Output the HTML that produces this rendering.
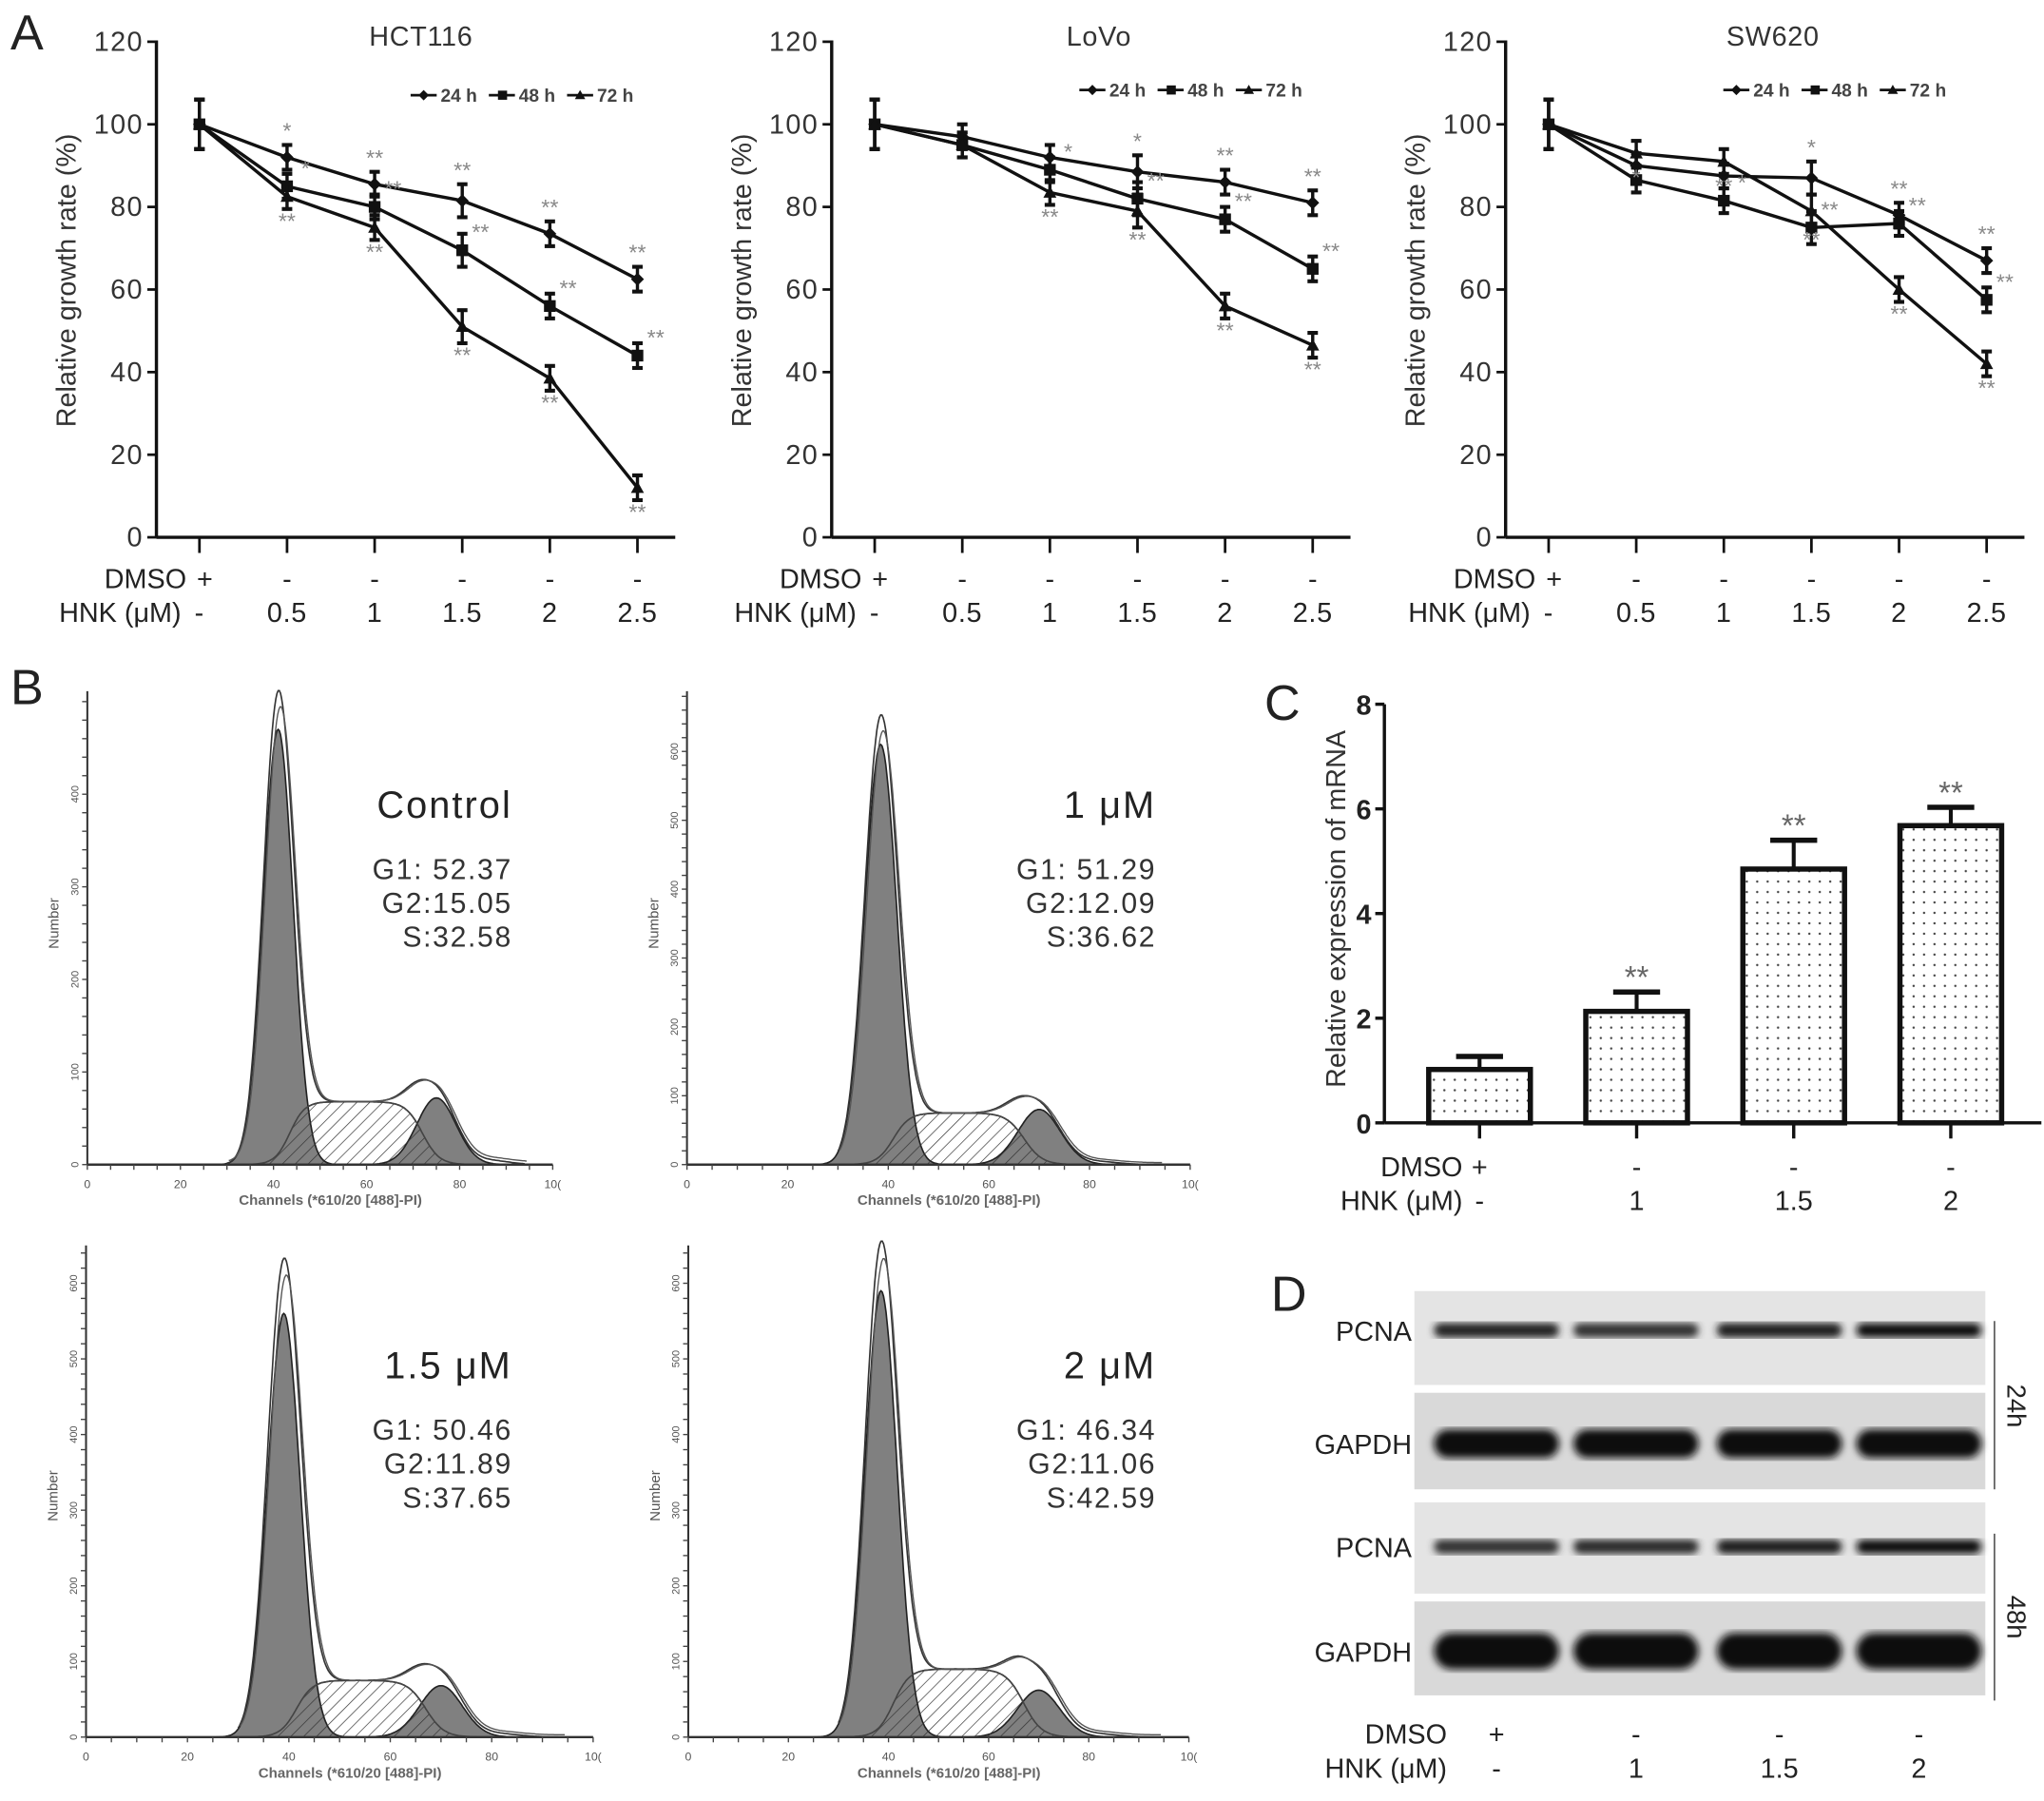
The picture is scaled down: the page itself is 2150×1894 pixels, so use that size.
<!DOCTYPE html>
<html><head><meta charset="utf-8">
<style>
html,body{margin:0;padding:0;background:#fff;}
svg{display:block;font-family:"Liberation Sans",sans-serif;}
</style></head>
<body>
<svg id="fig" width="2150" height="1894" viewBox="0 0 1568 1381" preserveAspectRatio="none" xmlns="http://www.w3.org/2000/svg">
<defs>
<pattern id="hatch" patternUnits="userSpaceOnUse" width="7" height="7" patternTransform="rotate(45)">
<line x1="0" y1="0" x2="0" y2="7" stroke="#333" stroke-width="1"/>
</pattern>
<pattern id="dots" patternUnits="userSpaceOnUse" width="8" height="8">
<circle cx="4" cy="4" r="0.9" fill="#444"/>
</pattern>
<filter id="blur"><feGaussianBlur stdDeviation="3"/></filter>
</defs>
<g id="root"></g>
</svg>
<script>
// ---------- Panel A data ----------
const doseLabels = ["-", "0.5", "1", "1.5", "2", "2.5"];
const dmsoLabels = ["+", "-", "-", "-", "-", "-"];
const yTicksA = [0, 20, 40, 60, 80, 100, 120];
const seriesNames = ["24 h", "48 h", "72 h"];
const hct24 = [100, 92, 85.5, 81.5, 73.5, 62.5];
const hct48 = [100, 85, 80, 69.5, 56, 44];
const hct72 = [100, 82.5, 75, 51, 38.5, 12];
const lovo24 = [100, 97, 92, 88.5, 86, 81];
const lovo48 = [100, 95, 89, 82, 77, 65];
const lovo72 = [100, 95, 83.5, 79, 56, 46.5];
const sw24 = [100, 90, 87.5, 87, 78, 67];
const sw48 = [100, 86.5, 81.5, 75, 76, 57.5];
const sw72 = [100, 93, 91, 79, 60, 42];
const errA = [6, 3, 3, 4, 3, 3];
const sigHct = [["", "*", "**", "**", "**", "**"], ["", "*", "**", "**", "**", "**"], ["", "**", "**", "**", "**", "**"]];
const sigLovo = [["", "", "", "*", "**", "**"], ["", "", "*", "**", "**", "**"], ["", "", "**", "**", "**", "**"]];
const sigSw = [["", "", "", "*", "**", "**"], ["", "", "*", "**", "**", "**"], ["", "*", "**", "**", "**", "**"]];
// ---------- Panel B data ----------
const flowTitles = ["Control", "1 μM", "1.5 μM", "2 μM"];
const flowG1 = [52.37, 51.29, 50.46, 46.34];
const flowG2 = [15.05, 12.09, 11.89, 11.06];
const flowS = [32.58, 36.62, 37.65, 42.59];
const g1Mean = [41, 38.5, 39, 38.5];
const g1Height = [470, 610, 560, 590];
const g2Mean = [75, 70, 70, 70];
const g2Height = [72, 80, 68, 62];
const sHeight = [68, 75, 75, 90];
const envPeak = [500, 640, 620, 640];
const envG2 = [112, 122, 118, 128];
const flowYTick = [100, 100, 100, 100];
const flowXTicks = [0, 20, 40, 60, 80, 100];
// ---------- Panel C data ----------
const barDose = ["-", "1", "1.5", "2"];
const barDmso = ["+", "-", "-", "-"];
const barVals = [1.02, 2.13, 4.85, 5.68];
const barErr = [0.25, 0.37, 0.55, 0.35];
const barSig = ["", "**", "**", "**"];
const yTicksC = [0, 2, 4, 6, 8];
// ---------- Panel D data ----------
const blotRows = ["PCNA", "GAPDH", "PCNA", "GAPDH"];
const blotIntensity = [[0.85, 0.75, 0.9, 1], [1, 1, 1, 1], [0.75, 0.8, 0.9, 1], [1, 1, 1, 1]];

const NS = "http://www.w3.org/2000/svg";
const root = document.getElementById("root");
function el(tag, attrs, parent, text) {
  const e = document.createElementNS(NS, tag);
  for (const k in attrs) e.setAttribute(k, attrs[k]);
  if (text !== undefined) e.textContent = text;
  (parent || root).appendChild(e);
  return e;
}

// ---------- Panel letters ----------
[["A", 8, 38], ["B", 8, 540], ["C", 970, 552], ["D", 975, 1005]].forEach(function (p) {
  const t = el("text", {x: p[1], y: p[2], "font-size": 38, fill: "#222"}, root, p[0]);
  
  
});

// ---------- Panel A ----------
function lineChart(cfg) {
  const g = el("g", {});
  
  
  const y0 = 412, y120 = 32;
  const ys = v => y0 - (v / 120) * (y0 - y120);
  const xs = i => cfg.ax + 33 + i * 67.2;
  el("line", {x1: cfg.ax, y1: y120 - 1, x2: cfg.ax, y2: y0, stroke: "#111", "stroke-width": 2.5}, g);
  el("line", {x1: cfg.ax, y1: y0, x2: cfg.ax + 398, y2: y0, stroke: "#111", "stroke-width": 2.5}, g);
  yTicksA.forEach(function (t) {
    el("line", {x1: cfg.ax - 7, y1: ys(t), x2: cfg.ax, y2: ys(t), stroke: "#111", "stroke-width": 2}, g);
    const tl = el("text", {x: cfg.ax - 10, y: ys(t) + 7, "font-size": 21, "letter-spacing": 1, "text-anchor": "end", fill: "#333"}, g, String(t));
    
    
  });
  doseLabels.forEach(function (d, i) {
    el("line", {x1: xs(i), y1: y0, x2: xs(i), y2: y0 + 12, stroke: "#111", "stroke-width": 2}, g);
    const a = el("text", {x: xs(i) + (i === 0 ? -2 : 0), y: 451, "font-size": 21, "text-anchor": i === 0 ? "start" : "middle", fill: "#222"}, g, dmsoLabels[i]);
    
    
    const b = el("text", {x: xs(i), y: 477, "font-size": 21, "letter-spacing": 0.5, "text-anchor": "middle", fill: "#222"}, g, d);
    
    
  });
  const r1 = el("text", {x: xs(0) - 10, y: 451, "font-size": 21, "text-anchor": "end", fill: "#222"}, g, "DMSO");
  
  
  const r2 = el("text", {x: xs(0) - 14, y: 477, "font-size": 21, "text-anchor": "end", fill: "#222"}, g, "HNK (μM)");
  
  
  const yt = el("text", {x: 0, y: 0, "font-size": 21, "text-anchor": "middle", fill: "#333", transform: "translate(" + (cfg.ax - 62) + ",215) rotate(-90)"}, g, "Relative growth rate (%)");
  
  
  const tt = el("text", {x: cfg.tx, y: 35, "font-size": 21, "letter-spacing": 0.5, "text-anchor": "middle", fill: "#333"}, g, cfg.title);
  
  
  const marks = ["diamond", "square", "triangle"];
  cfg.series.forEach(function (vals, si) {
    const sg = el("g", {}, g);
    
    
    let d = "";
    vals.forEach(function (v, i) { d += (i ? "L" : "M") + xs(i) + "," + ys(v); });
    el("path", {d: d, fill: "none", stroke: "#111", "stroke-width": 2.5}, sg);
    vals.forEach(function (v, i) {
      const x = xs(i), y = ys(v), e = errA[i] * (y0 - y120) / 120;
      el("line", {x1: x, y1: y - e, x2: x, y2: y + e, stroke: "#111", "stroke-width": 2.5}, sg);
      el("line", {x1: x - 4, y1: y - e, x2: x + 4, y2: y - e, stroke: "#111", "stroke-width": 3}, sg);
      el("line", {x1: x - 4, y1: y + e, x2: x + 4, y2: y + e, stroke: "#111", "stroke-width": 3}, sg);
      let m;
      if (marks[si] === "square") m = el("rect", {x: x - 4.5, y: y - 4.5, width: 9, height: 9, fill: "#111"}, sg);
      else if (marks[si] === "diamond") m = el("path", {d: "M" + x + "," + (y - 5) + "l5,5l-5,5l-5,-5z", fill: "#111"}, sg);
      else m = el("path", {d: "M" + x + "," + (y - 5) + "l5,9h-10z", fill: "#111"}, sg);
      
      
      const s = cfg.sig[si][i];
      if (s) {
        let sx = x, sy;
        if (si === 0) sy = y - e - 5;
        else if (si === 2) sy = y + e + 15;
        else { sx = x + 14; sy = y - 8; }
        const st = el("text", {x: sx, y: sy, "font-size": 17, "text-anchor": "middle", fill: "#888"}, sg, s);
        
        
      }
    });
  });
  const lg = el("g", {}, g);
  
  
  seriesNames.forEach(function (n, si) {
    const lx = cfg.lx + si * 60, ly = cfg.ly;
    el("line", {x1: lx, y1: ly, x2: lx + 20, y2: ly, stroke: "#111", "stroke-width": 2}, lg);
    if (si === 1) el("rect", {x: lx + 7, y: ly - 3.5, width: 7, height: 7, fill: "#111"}, lg);
    else if (si === 0) el("path", {d: "M" + (lx + 10) + "," + (ly - 4) + "l4,4l-4,4l-4,-4z", fill: "#111"}, lg);
    else el("path", {d: "M" + (lx + 10) + "," + (ly - 4) + "l4,7h-8z", fill: "#111"}, lg);
    const t = el("text", {x: lx + 23, y: ly + 5, "font-size": 14, "font-weight": "bold", fill: "#444"}, lg, n);
    
    
  });
}
lineChart({name: "chart-hct116", ax: 120, tx: 323, title: "HCT116", series: [hct24, hct48, hct72], sig: sigHct, lx: 315, ly: 73});
lineChart({name: "chart-lovo", ax: 638, tx: 843, title: "LoVo", series: [lovo24, lovo48, lovo72], sig: sigLovo, lx: 828, ly: 69});
lineChart({name: "chart-sw620", ax: 1155, tx: 1360, title: "SW620", series: [sw24, sw48, sw72], sig: sigSw, lx: 1322, ly: 69});

// ---------- Panel B ----------
const flowLayout = [
  {ax: 67, x1: 424, by: 893, top: 530, per100: 71, tx: 393, ty: 627},
  {ax: 527, x1: 913, by: 893, top: 530, per100: 52.8, tx: 887, ty: 627},
  {ax: 66, x1: 455, by: 1332, top: 955, per100: 58, tx: 393, ty: 1057},
  {ax: 528, x1: 912, by: 1332, top: 955, per100: 58, tx: 887, ty: 1057}
];
function gauss(x, m, s) { return Math.exp(-0.5 * ((x - m) / s) * ((x - m) / s)); }
function sig(x) { return 1 / (1 + Math.exp(-x)); }
flowLayout.forEach(function (L, k) {
  const g = el("g", {});
  
  
  const xs = c => L.ax + (c / 100) * (L.x1 - L.ax);
  const ys = n => L.by - n * L.per100 / 100;
  const sg1 = 3.2, sg2 = 4.2;
  const g1f = c => g1Height[k] * gauss(c, g1Mean[k], sg1);
  const g2f = c => g2Height[k] * gauss(c, g2Mean[k], sg2);
  const sf = c => sHeight[k] * sig((c - g1Mean[k] - 2.5) / 1.6) * sig((g2Mean[k] - 3 - c) / 1.8);
  function pathOf(f) {
    let d = "M" + xs(25) + "," + L.by;
    for (let c = 25; c <= 95; c += 0.25) d += "L" + xs(c).toFixed(1) + "," + ys(f(c)).toFixed(1);
    return d + "L" + xs(95) + "," + L.by + "Z";
  }
  el("path", {d: pathOf(sf), fill: "#fff", stroke: "#444", "stroke-width": 1.2}, g);
  el("path", {d: pathOf(g1f), fill: "#808080", stroke: "#222", "stroke-width": 1.2}, g);
  el("path", {d: pathOf(g2f), fill: "#808080", stroke: "#222", "stroke-width": 1.2}, g);
  el("path", {d: pathOf(sf), fill: "url(#hatch)", stroke: "#444", "stroke-width": 1.2}, g);
  const scaleG1 = envPeak[k] / g1Height[k];
  const env = c => g1f(c) * scaleG1 + sf(c) + g2f(c) * (envG2[k] - sHeight[k] * 0.55) / g2Height[k] + 4 * gauss(c, g2Mean[k] + 12, 4);
  let d = "", d2 = "";
  for (let c = 30; c <= 94; c += 0.25) {
    d += (d ? "L" : "M") + xs(c).toFixed(1) + "," + ys(env(c)).toFixed(1);
    d2 += (d2 ? "L" : "M") + xs(c + 0.4).toFixed(1) + "," + ys(env(c) * 0.96 + 3).toFixed(1);
  }
  const e1 = el("path", {d: d, fill: "none", stroke: "#333", "stroke-width": 1.2}, g);
  
  
  el("path", {d: d2, fill: "none", stroke: "#555", "stroke-width": 1}, g);
  el("line", {x1: L.ax, y1: L.top, x2: L.ax, y2: L.by, stroke: "#333", "stroke-width": 1.5}, g);
  el("line", {x1: L.ax, y1: L.by, x2: L.x1, y2: L.by, stroke: "#333", "stroke-width": 1.8}, g);
  for (let c = 0; c <= 100; c += 5) el("line", {x1: xs(c), y1: L.by, x2: xs(c), y2: L.by + 4, stroke: "#444", "stroke-width": 1}, g);
  for (let n = 0; ys(n) >= L.top; n += 20) el("line", {x1: L.ax - 4, y1: ys(n), x2: L.ax, y2: ys(n), stroke: "#444", "stroke-width": 1}, g);
  for (let n = 0; ys(n) >= L.top + 10; n += flowYTick[k]) {
    const t = el("text", {x: 0, y: 0, "font-size": 8, fill: "#555", "text-anchor": "middle", transform: "translate(" + (L.ax - 7) + "," + ys(n) + ") rotate(-90)"}, g, String(n));
    
    
  }
  flowXTicks.forEach(function (c) {
    const t = el("text", {x: xs(c), y: L.by + 18, "font-size": 9, fill: "#555", "text-anchor": "middle"}, g, c === 100 ? "10(" : String(c));
    
    
  });
  const xt = el("text", {x: (L.ax + L.x1) / 2 + 8, y: L.by + 31, "font-size": 11, "font-weight": "bold", fill: "#666", "text-anchor": "middle"}, g, "Channels (*610/20 [488]-PI)");
  
  
  const yt = el("text", {x: 0, y: 0, "font-size": 11, fill: "#555", "text-anchor": "middle", transform: "translate(" + (L.ax - 22) + "," + (L.by - 185) + ") rotate(-90)"}, g, "Number");
  
  
  const t1 = el("text", {x: L.tx, y: L.ty, "font-size": 29, "letter-spacing": 1.5, fill: "#222", "text-anchor": "end"}, g, flowTitles[k]);
  
  
  [["G1: ", flowG1[k]], ["G2:", flowG2[k]], ["S:", flowS[k]]].forEach(function (r, j) {
    const t = el("text", {x: L.tx, y: L.ty + 47 + j * 26, "font-size": 22, "letter-spacing": 1.2, fill: "#333", "text-anchor": "end"}, g, r[0] + r[1].toFixed(2));
    
    
  });
});

// ---------- Panel C ----------
(function () {
  const g = el("g", {});
  
  
  const ax = 1062, y0 = 861, y8 = 540;
  const ys = v => y0 - v / 8 * (y0 - y8);
  const xs = i => 1135 + i * 120.5;
  barVals.forEach(function (v, i) {
    const x = xs(i), y = ys(v), ye = ys(v + barErr[i]);
    el("line", {x1: x, y1: y, x2: x, y2: ye, stroke: "#111", "stroke-width": 3}, g);
    el("line", {x1: x - 18, y1: ye, x2: x + 18, y2: ye, stroke: "#111", "stroke-width": 4}, g);
    const b = el("rect", {x: x - 39, y: y, width: 78, height: y0 - y, fill: "url(#dots)", stroke: "#111", "stroke-width": 4}, g);
    
    
    if (barSig[i]) {
      const s = el("text", {x: x, y: ye - 3, "font-size": 24, fill: "#666", "text-anchor": "middle"}, g, barSig[i]);
      
      
    }
    el("line", {x1: x, y1: y0, x2: x, y2: y0 + 12, stroke: "#111", "stroke-width": 2.5}, g);
    const a = el("text", {x: x, y: 902, "font-size": 21, fill: "#222", "text-anchor": "middle"}, g, barDmso[i]);
    
    
    const bl = el("text", {x: x, y: 928, "font-size": 21, fill: "#222", "text-anchor": "middle"}, g, barDose[i]);
    
    
  });
  el("line", {x1: ax, y1: y8, x2: ax, y2: y0, stroke: "#111", "stroke-width": 2.5}, g);
  el("line", {x1: ax, y1: y0, x2: 1566, y2: y0, stroke: "#111", "stroke-width": 2.5}, g);
  yTicksC.forEach(function (t) {
    el("line", {x1: ax - 7, y1: ys(t), x2: ax, y2: ys(t), stroke: "#111", "stroke-width": 2.5}, g);
    const tl = el("text", {x: ax - 10, y: ys(t) + 8, "font-size": 21, "font-weight": "bold", fill: "#222", "text-anchor": "end"}, g, String(t));
    
    
  });
  const r1 = el("text", {x: 1122, y: 902, "font-size": 21, fill: "#222", "text-anchor": "end"}, g, "DMSO");
  
  
  const r2 = el("text", {x: 1122, y: 928, "font-size": 21, fill: "#222", "text-anchor": "end"}, g, "HNK (μM)");
  
  
  const yt = el("text", {x: 0, y: 0, "font-size": 21, fill: "#333", "text-anchor": "middle", transform: "translate(1032,697) rotate(-90)"}, g, "Relative expression of mRNA");
  
  
})();

// ---------- Panel D ----------
(function () {
  const g = el("g", {});
  
  
  const strips = [[990, 1062], [1068, 1142], [1152, 1222], [1228, 1300]];
  const lanes = [1148, 1255, 1365, 1472];
  strips.forEach(function (s, r) {
    const st = el("rect", {x: 1085, y: s[0], width: 438, height: s[1] - s[0], fill: r % 2 ? "#d9d9d9" : "#e4e4e4"}, g);
    
    
    const cy = r % 2 ? (s[0] + s[1]) / 2 + 2 : s[0] + (r === 0 ? 30 : 34);
    lanes.forEach(function (lx, i) {
      const inten = blotIntensity[r][i];
      const h = r % 2 ? (r === 3 ? 28 : 22) : 11;
      const c = Math.round(15 + (1 - inten) * 140);
      const band = el("rect", {x: lx - 48, y: cy - h / 2, width: 96, height: h, rx: h / 2, fill: "rgb(" + c + "," + c + "," + c + ")", filter: "url(#blur)"}, g);
      
      
    });
    const lab = el("text", {x: 1083, y: cy + 8, "font-size": 21, fill: "#222", "text-anchor": "end"}, g, blotRows[r]);
    
    
  });
  el("line", {x1: 1530, y1: 1013, x2: 1530, y2: 1142, stroke: "#555", "stroke-width": 1.2}, g);
  el("line", {x1: 1530, y1: 1176, x2: 1530, y2: 1304, stroke: "#555", "stroke-width": 1.2}, g);
  [["24h", 1078], ["48h", 1240]].forEach(function (p) {
    const t = el("text", {x: 0, y: 0, "font-size": 20, fill: "#222", "text-anchor": "middle", transform: "translate(1540," + p[1] + ") rotate(90)"}, g, p[0]);
    
    
  });
  const dm = ["+", "-", "-", "-"], hk = ["-", "1", "1.5", "2"];
  lanes.forEach(function (lx, i) {
    const a = el("text", {x: lx, y: 1337, "font-size": 21, fill: "#222", "text-anchor": "middle"}, g, dm[i]);
    
    
    const b = el("text", {x: lx, y: 1363, "font-size": 21, fill: "#222", "text-anchor": "middle"}, g, hk[i]);
    
    
  });
  const r1 = el("text", {x: 1110, y: 1337, "font-size": 21, fill: "#222", "text-anchor": "end"}, g, "DMSO");
  
  
  const r2 = el("text", {x: 1110, y: 1363, "font-size": 21, fill: "#222", "text-anchor": "end"}, g, "HNK (μM)");
  
  
})();
</script>
</body></html>
